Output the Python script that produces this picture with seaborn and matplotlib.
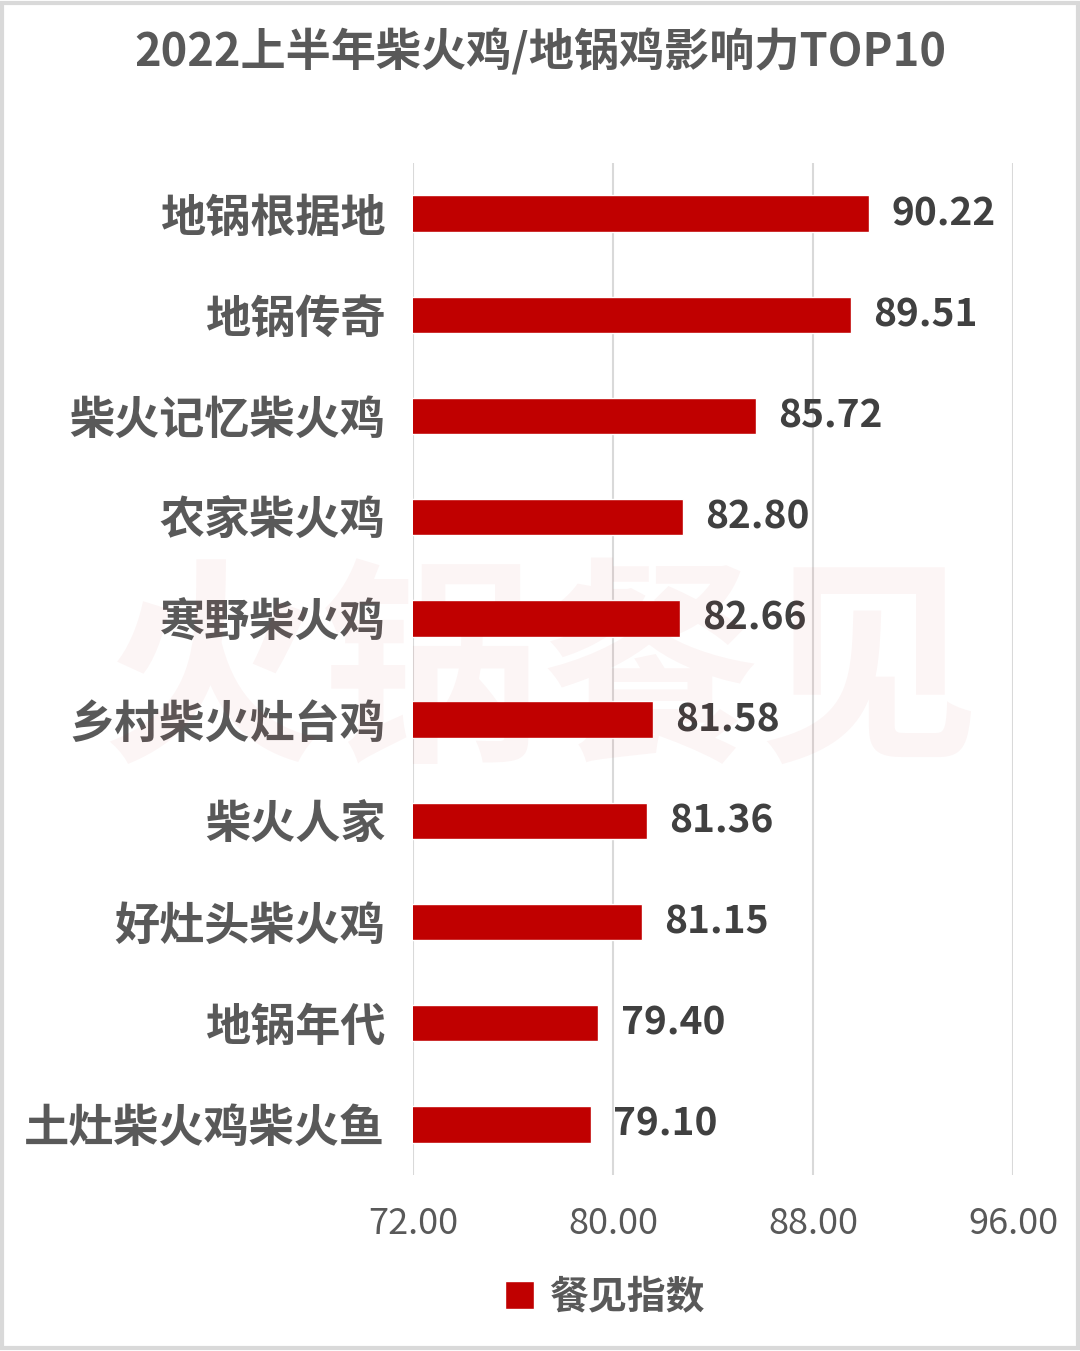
import seaborn as sns
import matplotlib.pyplot as plt
import pandas as pd
from matplotlib.patches import Rectangle

brands = ['地锅根据地', '地锅传奇', '柴火记忆柴火鸡', '农家柴火鸡', '寒野柴火鸡',
          '乡村柴火灶台鸡', '柴火人家', '好灶头柴火鸡', '地锅年代', '土灶柴火鸡柴火鱼']
scores = [90.22, 89.51, 85.72, 82.80, 82.66, 81.58, 81.36, 81.15, 79.40, 79.10]
x_ticks = [72, 80, 88, 96]

df = pd.DataFrame({'品牌': brands, '餐见指数': scores})

sns.set_style("white")
plt.rcParams['font.family'] = ['Noto Sans CJK SC', 'DejaVu Sans']

fig = plt.figure(figsize=(10.8, 13.51), dpi=100)
ax = fig.add_axes([0.3824, 0.1303, 0.5556, 0.749])

red = '#C00000'
sns.barplot(x='餐见指数', y='品牌', data=df, orient='h', color=red,
            width=0.36, ax=ax, label='餐见指数', saturation=1)

ax.set_xlim(72, 96)
ax.set_ylim(9.5, -0.5)
ax.set_xticks(x_ticks)
ax.set_xticklabels([f'{v:.2f}' for v in x_ticks], fontsize=26, color='#595959')
ax.tick_params(axis='x', length=0, pad=22)
ax.tick_params(axis='y', length=0, pad=20)
for lbl in ax.get_yticklabels():
    lbl.set_fontsize(32.5)
    lbl.set_fontweight('bold')
    lbl.set_color('#595959')
ax.set_xlabel('')
ax.set_ylabel('')
ax.xaxis.grid(True, color='#d9d9d9', linewidth=1.5)
ax.set_axisbelow(True)
for s in ax.spines.values():
    s.set_visible(False)

for i, v in enumerate(scores):
    ax.text(v + 0.9, i, f'{v:.2f}', va='center', ha='left', fontsize=28,
            fontweight='bold', color='#404040')

fig.text(0.5, 0.961, '2022上半年柴火鸡/地锅鸡影响力TOP10', ha='center', va='center',
         fontsize=32.5, fontweight='bold', color='#595959')

# faint watermark behind the bars
fig.text(0.5, 0.497, '火锅餐见', ha='center', va='center', fontsize=158,
         fontweight='bold', color='#c00000', alpha=0.04, zorder=0)

leg = ax.legend(loc='center', bbox_to_anchor=(0.56, 0.04), bbox_transform=fig.transFigure,
                frameon=False, handlelength=0.75, handleheight=0.75,
                handletextpad=0.4, prop={'weight': 'bold', 'size': 28})
for t in leg.get_texts():
    t.set_color('#595959')

fig.patches.append(Rectangle((0.002, 0.002), 0.996, 0.996, transform=fig.transFigure,
                             fill=False, edgecolor='#d9d9d9', linewidth=3))

plt.savefig('out.png', dpi=100)
